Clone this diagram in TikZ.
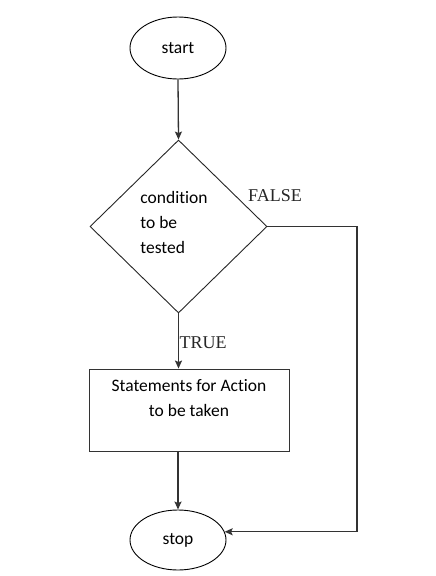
\documentclass[tikz,border=0pt]{standalone}
\usepackage{fontspec}
\newfontfamily\carlitof[Ligatures={NoCommon}]{Carlito}
\newfontfamily\timesf{Liberation Serif}
\usetikzlibrary{shapes.geometric,arrows.meta}
\tikzset{
  term/.style={draw=black, line width=0.9pt, ellipse, minimum width=96pt, minimum height=62pt, inner sep=0pt, font=\carlitof\fontsize{17.5}{21}\selectfont},
  decis/.style={draw=black!85, line width=0.9pt, diamond, minimum width=177pt, minimum height=173pt, inner sep=0pt},
  procbox/.style={draw=black!80, line width=0.9pt, rectangle, minimum width=200pt, minimum height=82pt, inner sep=0pt},
  sanstext/.style={font=\carlitof\fontsize{17.5}{25}\selectfont, inner sep=0pt},
  serlabel/.style={font=\timesf\fontsize{18}{21}\selectfont, inner sep=0pt, text=black!85},
  flow/.style={draw=black!80, line width=1.3pt, -{Stealth[length=8pt,width=7pt,inset=1.5pt]}},
  flowline/.style={draw=black!80, line width=1.3pt}
}
\begin{document}
\begin{tikzpicture}[x=1pt,y=-1pt]
  \fill[white] (0,0) rectangle (436,576);
  \useasboundingbox (0,0) rectangle (436,576);
  \node[term] (start) at (178,48) {start};
  \node[decis] (cond) at (178.5,226.5) {};
  \node[sanstext, align=left] (condtext) at (174,222) {condition\\to be\\tested};
  \node[procbox] (act) at (189,410) {};
  \node[sanstext, align=center] (acttext) at (189,398) {Statements for Action\\to be taken};
  \node[term, minimum height=60pt] (stop) at (178,540) {stop};
  \node[serlabel] (falselbl) at (275,196) {FALSE};
  \node[serlabel] (truelbl) at (203,343) {TRUE};
  \coordinate (fx) at (357,0);
  \coordinate (fc) at (stop.10 -| fx);
  \draw[flow] (start.south) -- (cond.north);
  \draw[flow] (cond.south) -- (cond.south |- act.north);
  \draw[flow] (act.south -| stop.north) -- (stop.north);
  \draw[flow] (cond.east) -| (fc) -- (stop.10);
\end{tikzpicture}
\end{document}
